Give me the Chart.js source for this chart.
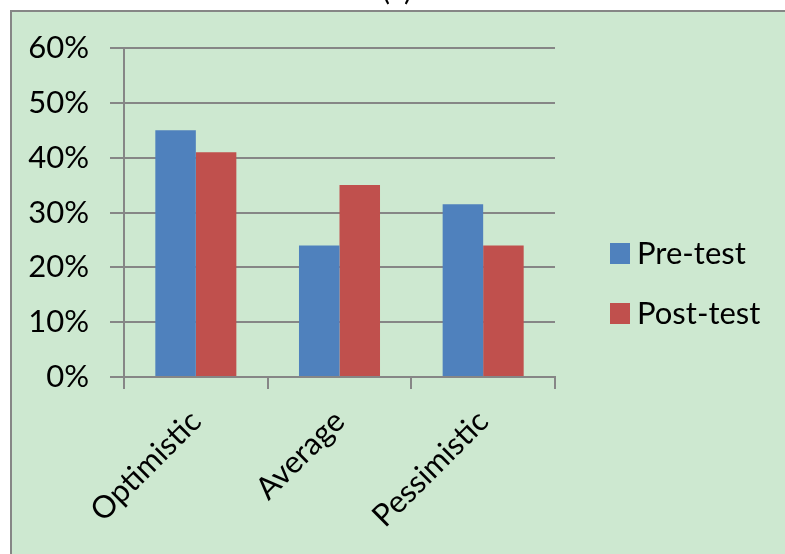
<!DOCTYPE html>
<html>
<head>
<meta charset="utf-8">
<script src="https://cdn.jsdelivr.net/npm/chart.js@4"></script>
<style>
    body { margin: 0; background: #fff; }
    canvas { display: block; }
</style>
</head>
<body>
<canvas id="myChart" width="785" height="554"></canvas>
<script>
const categories = ['Optimistic', 'Average', 'Pessimistic'];
const seriesNames = ['Pre-test', 'Post-test'];
const preTest = [45, 24, 31.5];
const postTest = [41, 35, 24];
const yMax = 60;
const yStep = 10;

const GRID = '#868686';
const FONT = 'Lato';

// panel: white page, green frame with grey top/left edge, and the "(a)" caption
const panelBg = {
    id: 'panelBg',
    beforeDraw(chart) {
        const c = chart.ctx;
        c.save();
        c.fillStyle = '#ffffff';
        c.fillRect(0, 0, chart.width, chart.height);
        c.fillStyle = '#cde8d0';
        c.fillRect(10, 10, chart.width, chart.height);
        c.fillStyle = GRID;
        c.fillRect(10, 10, 2, chart.height);
        c.fillRect(10, 10, chart.width, 2);
        c.fillStyle = '#000';
        c.font = '30px ' + FONT;
        c.textAlign = 'center';
        c.textBaseline = 'alphabetic';
        c.fillText('(a)', 397, 0);
        c.restore();
    }
};

// legend to the right of the plot, one row per dataset
const sideLegend = {
    id: 'sideLegend',
    afterDraw(chart) {
        const c = chart.ctx;
        const x = 610, top = 243, rowGap = 60;
        c.save();
        c.font = '31px ' + FONT;
        c.textAlign = 'left';
        c.textBaseline = 'middle';
        chart.data.datasets.forEach(function (ds, i) {
            const y = top + i * rowGap;
            c.fillStyle = ds.backgroundColor;
            c.fillRect(x, y, 20, 21);
            c.fillStyle = '#000';
            c.fillText(ds.label, x + 27, y + 11);
        });
        c.restore();
    }
};

const data = {
    labels: categories,
    datasets: [{
        label: seriesNames[0],
        data: preTest,
        backgroundColor: '#4f81bd'
    }, {
        label: seriesNames[1],
        data: postTest,
        backgroundColor: '#c0504d'
    }]
};

const config = {
    type: 'bar',
    data: data,
    plugins: [panelBg, sideLegend],
    options: {
        responsive: false,
        animation: false,
        categoryPercentage: 0.564,
        barPercentage: 1.0,
        layout: {
            padding: { top: 48, bottom: 0, left: 0, right: 230 }
        },
        plugins: {
            tooltip: { enabled: false },
            legend: { display: false }
        },
        scales: {
            x: {
                grid: {
                    display: true,
                    offset: true,
                    drawOnChartArea: false,
                    tickLength: 12,
                    color: GRID,
                    lineWidth: 2
                },
                border: { color: GRID, width: 2 },
                ticks: {
                    minRotation: 45,
                    maxRotation: 45,
                    padding: 14,
                    color: '#000',
                    font: { family: FONT, size: 31 }
                },
                afterFit: function (scale) { scale.height = 177; }
            },
            y: {
                min: 0,
                max: yMax,
                grid: {
                    color: GRID,
                    lineWidth: 2,
                    tickLength: 14
                },
                border: { color: GRID, width: 2 },
                ticks: {
                    stepSize: yStep,
                    padding: 21,
                    color: '#000',
                    font: { family: FONT, size: 31 },
                    callback: function (v) { return v + '%'; }
                },
                afterFit: function (scale) { scale.width = 124; }
            }
        }
    }
};

const myChart = new Chart(
    document.getElementById('myChart'),
    config
);
</script>
</body>
</html>
